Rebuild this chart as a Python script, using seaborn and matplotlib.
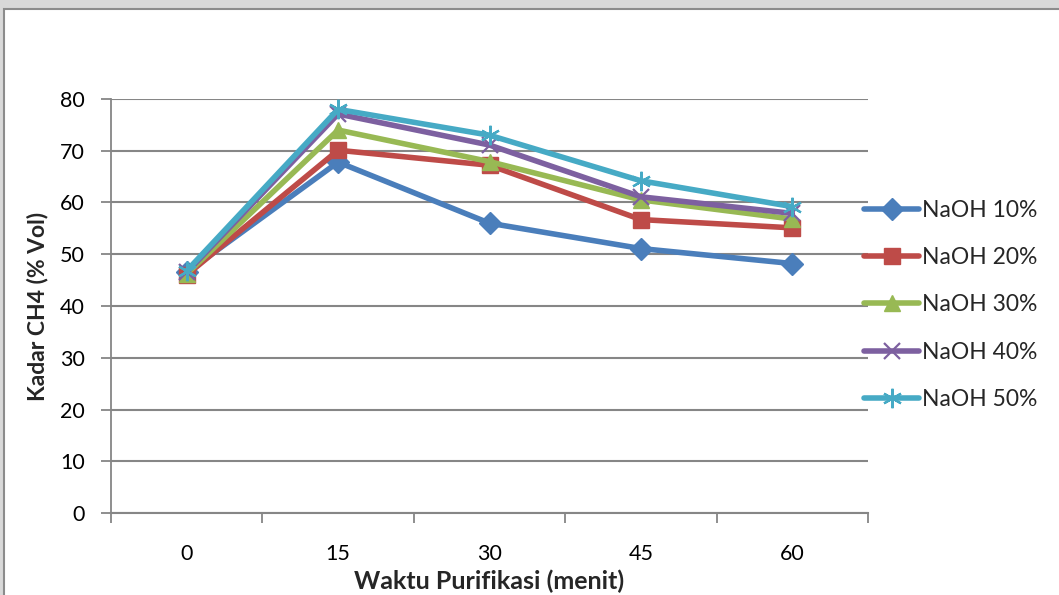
import matplotlib
matplotlib.use("Agg")
import matplotlib.pyplot as plt
from matplotlib.patches import Rectangle
from matplotlib.lines import Line2D
import seaborn as sns
import pandas as pd

# Purification time (minutes) and methane content per NaOH concentration
waktu = ["0", "15", "30", "45", "60"]
naoh_10 = [46.5, 67.8, 56.0, 51.1, 48.2]
naoh_20 = [46.0, 70.1, 67.2, 56.7, 55.1]
naoh_30 = [46.2, 74.0, 67.9, 60.5, 56.8]
naoh_40 = [46.5, 77.1, 71.1, 61.1, 57.9]
naoh_50 = [46.8, 78.0, 73.0, 64.2, 59.2]
series_names = ["NaOH 10%", "NaOH 20%", "NaOH 30%", "NaOH 40%", "NaOH 50%"]
y_ticks = [0, 10, 20, 30, 40, 50, 60, 70, 80]

sns.set_theme(style="white")
plt.rcParams["font.family"] = ["Lato", "DejaVu Sans"]

rows = []
for name, vals in zip(series_names, [naoh_10, naoh_20, naoh_30, naoh_40, naoh_50]):
    for i, (w, v) in enumerate(zip(waktu, vals)):
        rows.append({"pos": i, "waktu": w, "kadar": v, "seri": name})
df = pd.DataFrame(rows)

colors = ["#4A7EBB", "#BE4B48", "#98B954", "#7D60A0", "#46AAC5"]
markers = ["D", "s", "^", "x", (6, 2, 0)]
msizes = [11, 12, 12, 12, 14]
mews = [1, 1, 1, 1.6, 1.6]

fig = plt.figure(figsize=(10.59, 5.95), dpi=100, facecolor="#d9d9d9")
frame = Rectangle((4 / 1059, -0.1), 1.2, 1.1 - 9 / 595,
                  transform=fig.transFigure, facecolor="white",
                  edgecolor="#8c8c8c", linewidth=1.5, zorder=-5)
fig.patches.append(frame)
ax = fig.add_axes([111 / 1059, 1 - 513 / 595, (868 - 111) / 1059, (513 - 99) / 595])
ax.set_zorder(2)
ax.patch.set_alpha(0)

handles = []
for name, c, m, ms, mew in zip(series_names, colors, markers, msizes, mews):
    sub = df[df["seri"] == name]
    sns.lineplot(data=sub, x="pos", y="kadar", ax=ax, color=c, marker=m,
                 markersize=ms, markeredgecolor=c, markerfacecolor=c,
                 markeredgewidth=mew, linewidth=4, legend=False,
                 solid_joinstyle="round", solid_capstyle="round", zorder=3)
    handles.append(Line2D([], [], color=c, marker=m, markersize=ms,
                          markeredgecolor=c, markerfacecolor=c,
                          markeredgewidth=mew, linewidth=4,
                          solid_capstyle="round"))

ax.set_xlim(-0.5, len(waktu) - 0.5)
ax.set_ylim(0, 80)
ax.set_yticks(y_ticks)
ax.set_yticklabels([str(t) for t in y_ticks])
ax.set_xticks(range(len(waktu)))
ax.set_xticklabels(waktu)
ax.set_xticks([i - 0.5 for i in range(len(waktu) + 1)], minor=True)
ax.tick_params(axis="x", which="major", length=0, pad=22, labelsize=15.5, colors="black")
ax.tick_params(axis="x", which="minor", length=7, width=1.3, color="#868686", bottom=True)
ax.tick_params(axis="y", which="major", length=7, width=1.3, color="#868686",
               pad=12, labelsize=15.5, left=True, labelcolor="black")

ax.grid(axis="y", color="#868686", linewidth=1.5)
ax.set_axisbelow(True)
for s in ["top", "right"]:
    ax.spines[s].set_visible(False)
ax.spines["left"].set_color("#868686")
ax.spines["left"].set_linewidth(1.3)
ax.spines["bottom"].set_color("#868686")
ax.spines["bottom"].set_linewidth(1.5)

ax.set_xlabel("Waktu Purifikasi (menit)", fontsize=18, fontweight="bold", labelpad=4)
ax.set_ylabel("Kadar CH4 (% Vol)", fontsize=16.5, fontweight="bold", labelpad=8)

leg = ax.legend(handles, series_names, loc="center left",
                bbox_to_anchor=(864 / 1059, 1 - 305 / 595),
                bbox_transform=fig.transFigure, frameon=False, fontsize=16.5,
                handlelength=2.4, handletextpad=0.15, labelspacing=1.15,
                borderaxespad=0, borderpad=0)

fig.savefig("out.png", dpi=100, facecolor=fig.get_facecolor())
